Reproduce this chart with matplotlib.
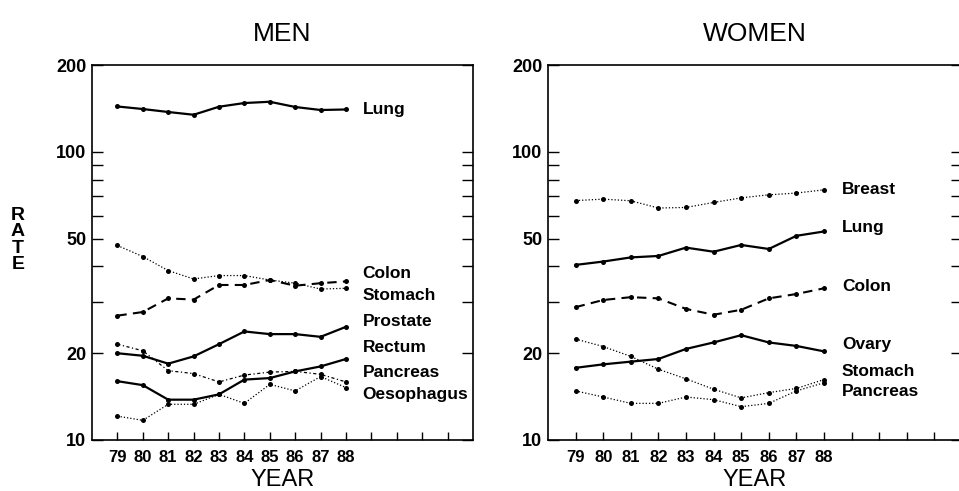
import matplotlib
matplotlib.use("Agg")
import matplotlib.pyplot as plt
from matplotlib.ticker import FixedLocator, NullFormatter

years = [79, 80, 81, 82, 83, 84, 85, 86, 87, 88]
year_labels = ["79", "80", "81", "82", "83", "84", "85", "86", "87", "88"]

# MEN
men_lung = [143.6, 140.7, 137.4, 134.4, 143.3, 147.6, 149.1, 143.0, 139.6, 140.2]
men_colon = [27.0, 27.8, 31.0, 30.7, 34.5, 34.5, 35.9, 34.3, 35.0, 35.5]
men_stomach = [47.3, 43.3, 38.7, 36.2, 37.2, 37.2, 35.9, 35.0, 33.4, 33.6]
men_prostate = [20.0, 19.6, 18.4, 19.5, 21.5, 23.8, 23.3, 23.3, 22.8, 24.7]
men_rectum = [16.0, 15.5, 13.8, 13.8, 14.4, 16.2, 16.4, 17.3, 18.0, 19.1]
men_pancreas = [21.5, 20.4, 17.4, 17.0, 15.9, 16.8, 17.2, 17.3, 16.9, 15.9]
men_oesophagus = [12.1, 11.7, 13.3, 13.3, 14.4, 13.4, 15.6, 14.8, 16.6, 15.2]

# WOMEN
women_breast = [67.7, 68.5, 67.6, 63.8, 64.1, 66.7, 69.2, 70.9, 71.9, 73.8]
women_lung = [40.5, 41.6, 43.0, 43.5, 46.5, 45.0, 47.5, 46.0, 51.1, 52.9]
women_colon = [28.9, 30.6, 31.3, 31.0, 28.5, 27.2, 28.3, 31.0, 32.1, 33.6]
women_ovary = [17.8, 18.3, 18.7, 19.1, 20.7, 21.8, 23.1, 21.8, 21.2, 20.3]
women_stomach = [22.4, 21.1, 19.5, 17.6, 16.3, 15.0, 14.0, 14.6, 15.1, 16.2]
women_pancreas = [14.8, 14.1, 13.4, 13.4, 14.1, 13.8, 13.05, 13.4, 14.8, 15.8]

men_series = [
    ("Lung", men_lung, "solid", 140.0),
    ("Colon", men_colon, "dashed", 37.8),
    ("Stomach", men_stomach, "dotted", 31.8),
    ("Prostate", men_prostate, "solid", 25.7),
    ("Rectum", men_rectum, "solid", 20.9),
    ("Pancreas", men_pancreas, "dashdot", 17.1),
    ("Oesophagus", men_oesophagus, "dotted", 14.4),
]
women_series = [
    ("Breast", women_breast, "dotted", 73.8),
    ("Lung", women_lung, "solid", 54.5),
    ("Colon", women_colon, "dashed", 34.0),
    ("Ovary", women_ovary, "solid", 21.4),
    ("Stomach", women_stomach, "dotted", 17.3),
    ("Pancreas", women_pancreas, "dotted", 14.7),
]

styles = {
    "solid": dict(linestyle="-", linewidth=1.6),
    "dashed": dict(linestyle=(0, (4.5, 3.0)), linewidth=1.5),
    "dotted": dict(linestyle=(0, (1.0, 1.6)), linewidth=0.9),
    "dashdot": dict(linestyle=(0, (2.5, 2.0, 1.0, 2.0)), linewidth=0.9),
}

LBL = "Liberation Sans"
fig = plt.figure(figsize=(9.59, 4.91), dpi=100)
W, H = 959.0, 491.0
ax_men = fig.add_axes([92 / W, 1 - 440 / H, 381 / W, 375 / H])
ax_wom = fig.add_axes([548 / W, 1 - 440 / H, 414 / W, 375 / H])

for ax, series, title in [(ax_men, men_series, "MEN"), (ax_wom, women_series, "WOMEN")]:
    for name, vals, ls, ylab in series:
        ax.plot(years, vals, color="black", marker="o", markersize=3.6,
                markeredgewidth=0, **styles[ls])
        ax.text(88.65, ylab, name, ha="left", va="center", fontsize=12.5,
                fontweight="bold", family=LBL)
    ax.set_yscale("log")
    ax.set_ylim(10, 200)
    ax.set_xlim(78, 93)
    ax.yaxis.set_major_locator(FixedLocator([10, 20, 50, 100, 200]))
    ax.yaxis.set_minor_locator(FixedLocator([30, 40, 60, 70, 80, 90]))
    ax.yaxis.set_minor_formatter(NullFormatter())
    ax.set_yticklabels(["10", "20", "50", "100", "200"])
    ax.xaxis.set_major_locator(FixedLocator(years))
    ax.xaxis.set_minor_locator(FixedLocator([89, 90, 91, 92]))
    ax.set_xticklabels(year_labels)
    ax.tick_params(axis="y", which="both", direction="in", left=True, right=True,
                   length=8, width=1.0, pad=4, labelsize=13)
    ax.tick_params(axis="x", which="both", direction="in", bottom=True, top=False,
                   length=6, width=1.0, pad=7, labelsize=12)
    for lab in ax.get_xticklabels() + ax.get_yticklabels():
        lab.set_fontweight("bold")
        lab.set_family(LBL)
    for sp in ax.spines.values():
        sp.set_linewidth(1.2)
    ax.set_xlabel("YEAR", fontsize=17, family=LBL, labelpad=3)
    ax.set_title(title, fontsize=19, family=LBL, pad=17)

fig.text(18 / W, 1 - 240 / H, "R\nA\nT\nE", ha="center", va="center",
         fontsize=14, fontweight="bold", family=LBL, linespacing=0.95)

fig.savefig("out.png", dpi=100)
